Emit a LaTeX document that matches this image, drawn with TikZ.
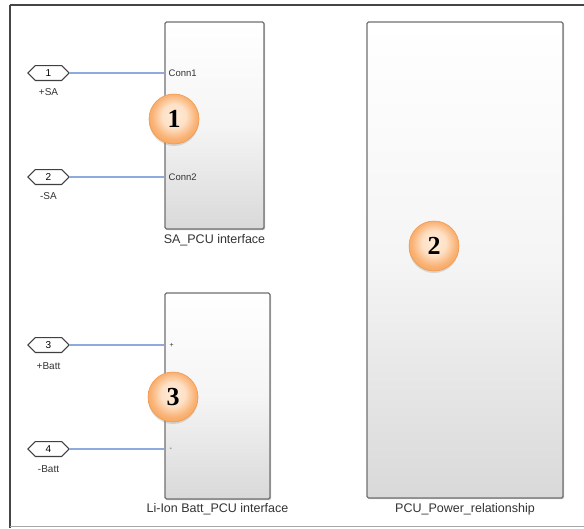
\documentclass[tikz,border=0pt]{standalone}
\usepackage{fontspec}
\setmainfont{Liberation Sans}
\newfontfamily\digitfont{Liberation Serif}
\usetikzlibrary{shadows}
\definecolor{wirecol}{HTML}{8FAADC}
\definecolor{framecol}{HTML}{454545}
\definecolor{blockedge}{HTML}{707070}
\definecolor{badgein}{HTML}{FFEBD8}
\definecolor{badgeout}{HTML}{F8A55E}
\definecolor{badgeedge}{HTML}{F0994C}
\pgfdeclareradialshading{badgeshade}{\pgfpoint{0bp}{4bp}}{color(0bp)=(badgein); color(12bp)=(badgein!85!badgeout); color(22bp)=(badgeout!80!badgein); color(28bp)=(badgeout); color(50bp)=(badgeout)}
\tikzset{
  port/.style={rectangle, minimum width=41pt, minimum height=14.5pt, inner sep=0pt,
    font=\fontsize{10}{10}\selectfont},
  hexline/.style={draw=black!75, line width=1.1pt, line join=miter},
  portlabel/.style={font=\fontsize{10}{10}\selectfont, text=black!80, inner sep=0pt},
  conn/.style={font=\fontsize{9.5}{9.5}\selectfont, text=black!80, inner sep=0pt, anchor=west},
  block/.style={draw=blockedge, line width=1.1pt, rounded corners=1.5pt, rectangle, inner sep=0pt,
    top color=white, bottom color=black!15, middle color=white!96!black,
    drop shadow={shadow xshift=1.2pt, shadow yshift=-1.2pt, opacity=0.35, fill=black!60}},
  blocklabel/.style={font=\fontsize{12.5}{12.5}\selectfont, text=black!80, inner sep=0pt},
  badge/.style={circle, minimum size=50pt, inner sep=0pt, shading=badgeshade, draw=badgeedge, line width=0.6pt,
    drop shadow={shadow xshift=0pt, shadow yshift=-2pt, opacity=0.25, fill=black!50},
    font=\digitfont\bfseries\fontsize{26}{26}\selectfont},
  wire/.style={draw=wirecol, line width=1.4pt},
  frameline/.style={draw=framecol, line width=2pt}
}
\begin{document}
\begin{tikzpicture}[x=1pt,y=-1pt]
\useasboundingbox (0,0) rectangle (584,528);
\fill[white] (0,0) rectangle (584,528);
% frame
\draw[frameline] (10,5) -- (584,5);
\draw[frameline] (10,5) -- (10,528);
\draw[draw=black!35, line width=1.2pt] (10,526.5) -- (584,526.5);

% blocks
\node[block, minimum width=99pt, minimum height=207pt] (b1) at (214.5,125.5) {};
\node[block, minimum width=105pt, minimum height=206pt] (b3) at (217.5,396) {};
\node[block, minimum width=196pt, minimum height=476pt] (b2) at (465,260) {};

\node[blocklabel] (lb1) at (b1.south |- 0,240) {SA\_PCU interface};
\node[blocklabel] (lb3) at (b3.south |- 0,509.5) {Li-Ion Batt\_PCU interface};
\node[blocklabel] (lb2) at (b2.south |- 0,509.5) {PCU\_Power\_relationship};

% ports
\node[port] (p1) at (48.5,73) {1};
\node[port] (p2) at (48.5,177) {2};
\node[port] (p3) at (48.5,345) {3};
\node[port] (p4) at (48.5,449) {4};
\foreach \p in {p1,p2,p3,p4}
  \draw[hexline] ([xshift=7.5pt]\p.north west) -- ([xshift=-7.5pt]\p.north east)
      -- (\p.east) -- ([xshift=-7.5pt]\p.south east)
      -- ([xshift=7.5pt]\p.south west) -- (\p.west) -- cycle;
\node[portlabel] (l1) at (48.5,92.5) {+SA};
\node[portlabel] (l2) at (48.5,196.5) {-SA};
\node[portlabel] (l3) at (48.5,366) {+Batt};
\node[portlabel] (l4) at (48.5,469) {-Batt};

% wires
\draw[wire] (p1.east) -- (p1.east -| b1.west);
\draw[wire] (p2.east) -- (p2.east -| b1.west);
\draw[wire] (p3.east) -- (p3.east -| b3.west);
\draw[wire] (p4.east) -- (p4.east -| b3.west);

% connection labels
\node[conn, xshift=4pt] (c1) at (p1.east -| b1.west) {Conn1};
\node[conn, xshift=4pt] (c2) at (p2.east -| b1.west) {Conn2};
\node[conn, xshift=5pt, font=\fontsize{7}{7}\selectfont] (c3) at (p3.east -| b3.west) {+};
\node[conn, xshift=5pt, font=\fontsize{7}{7}\selectfont] (c4) at (p4.east -| b3.west) {-};

% badges
\node[badge] (n1) at (174,119) {1};
\node[badge] (n2) at (434,246) {2};
\node[badge] (n3) at (173,397) {3};
\end{tikzpicture}
\end{document}
